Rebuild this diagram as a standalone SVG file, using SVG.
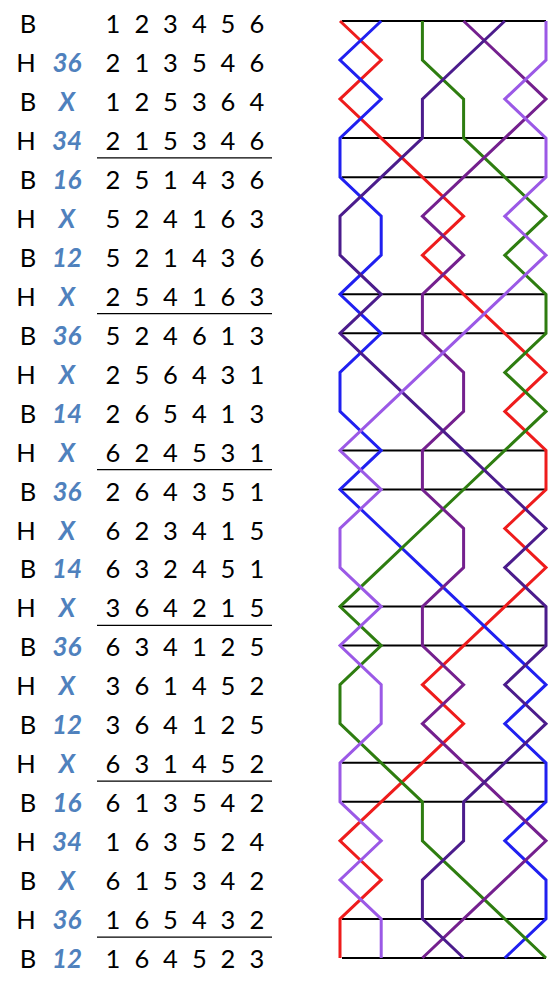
<svg xmlns="http://www.w3.org/2000/svg" width="558" height="985" viewBox="0 0 558 985">
<style>
.t{font-family:Lato,"Open Sans","Liberation Sans",sans-serif;font-size:25.5px;fill:#000}
.n{font-family:Lato,"Open Sans","Liberation Sans",sans-serif;font-size:26px;font-weight:bold;font-style:italic;fill:#4F81BD;text-anchor:middle}
.d{text-anchor:middle}
.rule{stroke:#000;stroke-width:1.3}
.grid{stroke:#000;stroke-width:2}
.bell{fill:none;stroke-width:3;stroke-linejoin:miter}
</style>
<rect width="558" height="985" fill="#fff"/>
<g id="table">
<g id="col-bh" class="t" text-anchor="middle">
<text x="28" y="33">B</text><text x="26" y="72">H</text><text x="28" y="110.9">B</text><text x="26" y="149.9">H</text>
<text x="28" y="188.8">B</text><text x="26" y="227.8">H</text><text x="28" y="266.8">B</text><text x="26" y="305.7">H</text>
<text x="28" y="344.7">B</text><text x="26" y="383.6">H</text><text x="28" y="422.6">B</text><text x="26" y="461.6">H</text>
<text x="28" y="500.5">B</text><text x="26" y="539.5">H</text><text x="28" y="578.4">B</text><text x="26" y="617.4">H</text>
<text x="28" y="656.4">B</text><text x="26" y="695.3">H</text><text x="28" y="734.3">B</text><text x="26" y="773.2">H</text>
<text x="28" y="812.2">B</text><text x="26" y="851.2">H</text><text x="28" y="890.1">B</text><text x="26" y="929.1">H</text>
<text x="28" y="968">B</text>
</g>
<g id="col-notation">
<text class="n" x="67" y="72">36</text><text class="n" x="67" y="110.9">X</text><text class="n" x="67" y="149.9">34</text>
<text class="n" x="67" y="188.8">16</text><text class="n" x="67" y="227.8">X</text><text class="n" x="67" y="266.8">12</text>
<text class="n" x="67" y="305.7">X</text><text class="n" x="67" y="344.7">36</text><text class="n" x="67" y="383.6">X</text>
<text class="n" x="67" y="422.6">14</text><text class="n" x="67" y="461.6">X</text><text class="n" x="67" y="500.5">36</text>
<text class="n" x="67" y="539.5">X</text><text class="n" x="67" y="578.4">14</text><text class="n" x="67" y="617.4">X</text>
<text class="n" x="67" y="656.4">36</text><text class="n" x="67" y="695.3">X</text><text class="n" x="67" y="734.3">12</text>
<text class="n" x="67" y="773.2">X</text><text class="n" x="67" y="812.2">16</text><text class="n" x="67" y="851.2">34</text>
<text class="n" x="67" y="890.1">X</text><text class="n" x="67" y="929.1">36</text><text class="n" x="67" y="968">12</text>
</g>
<g id="col-rows" class="t d">
<text x="113 142 170.5 199.5 228 257" y="33">123456</text>
<text x="113 142 170.5 199.5 228 257" y="72">213546</text>
<text x="113 142 170.5 199.5 228 257" y="110.9">125364</text>
<text x="113 142 170.5 199.5 228 257" y="149.9">215346</text>
<text x="113 142 170.5 199.5 228 257" y="188.8">251436</text>
<text x="113 142 170.5 199.5 228 257" y="227.8">524163</text>
<text x="113 142 170.5 199.5 228 257" y="266.8">521436</text>
<text x="113 142 170.5 199.5 228 257" y="305.7">254163</text>
<text x="113 142 170.5 199.5 228 257" y="344.7">524613</text>
<text x="113 142 170.5 199.5 228 257" y="383.6">256431</text>
<text x="113 142 170.5 199.5 228 257" y="422.6">265413</text>
<text x="113 142 170.5 199.5 228 257" y="461.6">624531</text>
<text x="113 142 170.5 199.5 228 257" y="500.5">264351</text>
<text x="113 142 170.5 199.5 228 257" y="539.5">623415</text>
<text x="113 142 170.5 199.5 228 257" y="578.4">632451</text>
<text x="113 142 170.5 199.5 228 257" y="617.4">364215</text>
<text x="113 142 170.5 199.5 228 257" y="656.4">634125</text>
<text x="113 142 170.5 199.5 228 257" y="695.3">361452</text>
<text x="113 142 170.5 199.5 228 257" y="734.3">364125</text>
<text x="113 142 170.5 199.5 228 257" y="773.2">631452</text>
<text x="113 142 170.5 199.5 228 257" y="812.2">613542</text>
<text x="113 142 170.5 199.5 228 257" y="851.2">163524</text>
<text x="113 142 170.5 199.5 228 257" y="890.1">615342</text>
<text x="113 142 170.5 199.5 228 257" y="929.1">165432</text>
<text x="113 142 170.5 199.5 228 257" y="968">164523</text>
</g>
<g id="rules" class="rule">
<line x1="97" y1="157.9" x2="272" y2="157.9"/>
<line x1="97" y1="313.7" x2="272" y2="313.7"/>
<line x1="97" y1="469.6" x2="272" y2="469.6"/>
<line x1="97" y1="625.4" x2="272" y2="625.4"/>
<line x1="97" y1="781.2" x2="272" y2="781.2"/>
<line x1="97" y1="937.1" x2="272" y2="937.1"/>
</g>
</g>
<g id="connectors">
<g id="grid" class="grid">
<line x1="342" y1="21" x2="546" y2="21"/>
<line x1="342" y1="138.1" x2="546" y2="138.1"/>
<line x1="342" y1="177.2" x2="546" y2="177.2"/>
<line x1="342" y1="294.3" x2="546" y2="294.3"/>
<line x1="342" y1="333.3" x2="546" y2="333.3"/>
<line x1="342" y1="450.4" x2="546" y2="450.4"/>
<line x1="342" y1="489.5" x2="546" y2="489.5"/>
<line x1="342" y1="606.6" x2="546" y2="606.6"/>
<line x1="342" y1="645.6" x2="546" y2="645.6"/>
<line x1="342" y1="762.8" x2="546" y2="762.8"/>
<line x1="342" y1="801.8" x2="546" y2="801.8"/>
<line x1="342" y1="918.9" x2="546" y2="918.9"/>
<line x1="342" y1="958" x2="546" y2="958"/>
</g>
<polyline id="bell1" class="bell" stroke="#EE1C1C" points="340,21 381.2,60 340,99.1 381.2,138.1 422.4,177.2 463.6,216.2 422.4,255.2 463.6,294.3 504.8,333.3 546,372.4 504.8,411.4 546,450.4 546,489.5 504.8,528.5 546,567.6 504.8,606.6 463.6,645.6 422.4,684.7 463.6,723.7 422.4,762.8 381.2,801.8 340,840.8 381.2,879.9 340,918.9 340,958"/>
<polyline id="bell2" class="bell" stroke="#2020F0" points="381.2,21 340,60 381.2,99.1 340,138.1 340,177.2 381.2,216.2 381.2,255.2 340,294.3 381.2,333.3 340,372.4 340,411.4 381.2,450.4 340,489.5 381.2,528.5 422.4,567.6 463.6,606.6 504.8,645.6 546,684.7 504.8,723.7 546,762.8 546,801.8 504.8,840.8 546,879.9 546,918.9 504.8,958"/>
<polyline id="bell3" class="bell" stroke="#2E7D10" points="422.4,21 422.4,60 463.6,99.1 463.6,138.1 504.8,177.2 546,216.2 504.8,255.2 546,294.3 546,333.3 504.8,372.4 546,411.4 504.8,450.4 463.6,489.5 422.4,528.5 381.2,567.6 340,606.6 381.2,645.6 340,684.7 340,723.7 381.2,762.8 422.4,801.8 422.4,840.8 463.6,879.9 504.8,918.9 546,958"/>
<polyline id="bell4" class="bell" stroke="#74208E" points="463.6,21 504.8,60 546,99.1 504.8,138.1 463.6,177.2 422.4,216.2 463.6,255.2 422.4,294.3 422.4,333.3 463.6,372.4 463.6,411.4 422.4,450.4 422.4,489.5 463.6,528.5 463.6,567.6 422.4,606.6 422.4,645.6 463.6,684.7 422.4,723.7 463.6,762.8 504.8,801.8 546,840.8 504.8,879.9 463.6,918.9 422.4,958"/>
<polyline id="bell5" class="bell" stroke="#4B1C8C" points="504.8,21 463.6,60 422.4,99.1 422.4,138.1 381.2,177.2 340,216.2 340,255.2 381.2,294.3 340,333.3 381.2,372.4 422.4,411.4 463.6,450.4 504.8,489.5 546,528.5 504.8,567.6 546,606.6 546,645.6 504.8,684.7 546,723.7 504.8,762.8 463.6,801.8 463.6,840.8 422.4,879.9 422.4,918.9 463.6,958"/>
<polyline id="bell6" class="bell" stroke="#9B59E6" points="546,21 546,60 504.8,99.1 546,138.1 546,177.2 504.8,216.2 546,255.2 504.8,294.3 463.6,333.3 422.4,372.4 381.2,411.4 340,450.4 381.2,489.5 340,528.5 340,567.6 381.2,606.6 340,645.6 381.2,684.7 381.2,723.7 340,762.8 340,801.8 381.2,840.8 340,879.9 381.2,918.9 381.2,958"/>
</g>
</svg>
